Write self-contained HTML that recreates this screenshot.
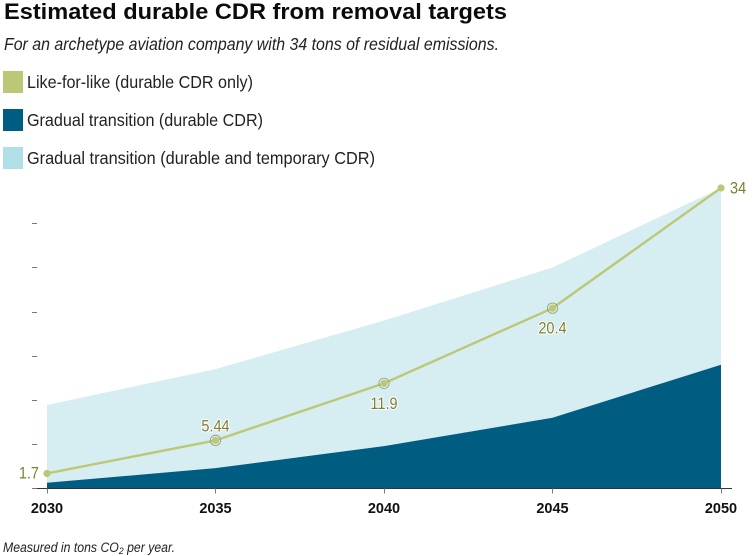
<!DOCTYPE html>
<html lang="en">
<head>
<meta charset="utf-8">
<title>Estimated durable CDR from removal targets</title>
<style>
html,body{margin:0;padding:0;background:#fff;width:756px;height:556px;overflow:hidden}
svg{display:block;font-family:"Liberation Sans",sans-serif}
</style>
</head>
<body>
<svg id="chart" xmlns="http://www.w3.org/2000/svg" width="756" height="556" viewBox="0 0 756 556">
  <text x="4" y="19" font-size="22.5" font-weight="700" fill="#0b0b0b" textLength="503" lengthAdjust="spacingAndGlyphs">Estimated durable CDR from removal targets</text>
  <text x="4" y="50" font-size="17.5" font-style="italic" fill="#222" textLength="495" lengthAdjust="spacingAndGlyphs">For an archetype aviation company with 34 tons of residual emissions.</text>

  <rect x="3" y="71" width="20" height="22" fill="#bcc876"/>
  <text x="27" y="88" font-size="17.5" fill="#222" textLength="226" lengthAdjust="spacingAndGlyphs">Like-for-like (durable CDR only)</text>
  <rect x="3" y="109" width="20" height="22" fill="#005d82"/>
  <text x="27" y="126" font-size="17.5" fill="#222" textLength="236" lengthAdjust="spacingAndGlyphs">Gradual transition (durable CDR)</text>
  <rect x="3" y="147" width="20" height="22" fill="#b0dfe5"/>
  <text x="27" y="164" font-size="17.5" fill="#222" textLength="348" lengthAdjust="spacingAndGlyphs">Gradual transition (durable and temporary CDR)</text>

  <g id="plot"></g>

  <text x="3" y="552" font-size="13.5" font-style="italic" fill="#222" textLength="172" lengthAdjust="spacingAndGlyphs">Measured in tons CO<tspan font-size="9.5" dy="2">2</tspan><tspan dy="-2"> per year.</tspan></text>
</svg>
<script>
const years = [2030, 2035, 2040, 2045, 2050];
const yTicks = [0, 5, 10, 15, 20, 25, 30];
const likeForLike = [1.7, 5.44, 11.9, 20.4, 34];
const gradualDurable = [0.65, 2.3, 4.8, 8, 14];
const gradualTotal = [9.45, 13.5, 19, 25, 34];
const valueLabels = ['1.7', '5.44', '11.9', '20.4', '34'];
const labelPlacement = ['left', 'above', 'below', 'below', 'right'];

const NS = 'http://www.w3.org/2000/svg';
const plot = document.getElementById('plot');
const xAt = function (year) { return 47 + (year - 2030) * (721 - 47) / 20; };
const yAt = function (value) { return 488.5 - value * 8.84; };

function make(tag, attrs, parent) {
  const el = document.createElementNS(NS, tag);
  Object.keys(attrs).forEach(function (k) { el.setAttribute(k, attrs[k]); });
  (parent || plot).appendChild(el);
  return el;
}
function areaPath(values) {
  const top = values.map(function (v, i) { return xAt(years[i]) + ',' + yAt(v); }).join(' L');
  return 'M' + top + ' L' + xAt(years[years.length - 1]) + ',' + yAt(0) + ' L' + xAt(years[0]) + ',' + yAt(0) + ' Z';
}

const totalArea = make('path', { d: areaPath(gradualTotal), fill: '#d6edf1' });



const durableArea = make('path', { d: areaPath(gradualDurable), fill: '#005d82' });



yTicks.forEach(function (t) {
  const ty = Math.floor(yAt(t) + 0.3) + 0.5;
  const tick = make('line', { x1: 32, x2: 37, y1: ty, y2: ty, stroke: '#777', 'stroke-width': 1 });
  
  
});

const axis = make('line', { x1: 37, x2: 732, y1: yAt(0), y2: yAt(0), stroke: '#333', 'stroke-width': 1 });



years.forEach(function (y) {
  const tx = Math.floor(xAt(y)) + 0.5;
  const tick = make('line', { x1: tx, x2: tx, y1: yAt(0), y2: yAt(0) + 5, stroke: '#777', 'stroke-width': 1 });
  
  
  const label = make('text', { x: xAt(y), y: 513, 'text-anchor': 'middle', 'font-size': 14.5, 'font-weight': 700, fill: '#111' });
  
  
  label.textContent = y;
});

const line = make('polyline', {
  points: likeForLike.map(function (v, i) { return xAt(years[i]) + ',' + yAt(v); }).join(' '),
  fill: 'none', stroke: '#bcc876', 'stroke-width': 2.4, 'stroke-linejoin': 'round'
});



likeForLike.forEach(function (v, i) {
  const cx = xAt(years[i]);
  const cy = yAt(v);
  const place = labelPlacement[i];
  if (place === 'above' || place === 'below') {
    const ring = make('circle', { cx: cx, cy: cy, r: 5.2, fill: 'none', stroke: '#8f9f70', 'stroke-width': 0.8 });
    
    
  }
  const dot = make('circle', { cx: cx, cy: cy, r: 3.6, fill: '#bcc876' });
  
  

  let lx = cx, ly = cy, anchor = 'middle';
  if (place === 'left') { lx = cx - 8; ly = cy + 5; anchor = 'end'; }
  if (place === 'right') { lx = cx + 9; ly = cy + 5.5; anchor = 'start'; }
  if (place === 'above') { ly = cy - 9; }
  if (place === 'below') { ly = cy + 25.5; }
  const label = make('text', {
    x: lx, y: ly, 'text-anchor': anchor, 'font-size': 16.5, fill: '#7d7f35',
    stroke: place === 'left' || place === 'right' ? 'none' : '#fff', 'stroke-width': 2, 'paint-order': 'stroke'
  });
  
  
  label.textContent = valueLabels[i];
  label.setAttribute('textLength', label.getComputedTextLength() * 0.88);
  label.setAttribute('lengthAdjust', 'spacingAndGlyphs');
});
</script>
</body>
</html>
